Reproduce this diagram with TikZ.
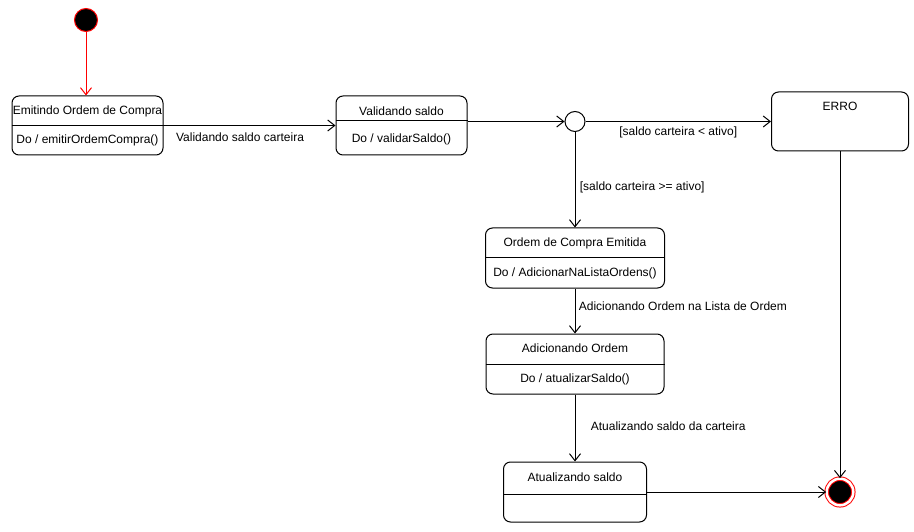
\documentclass[tikz,border=0pt]{standalone}
\usepackage{fontspec}
\setmainfont{Liberation Sans}
\usetikzlibrary{arrows.meta,positioning}

\begin{document}
\begin{tikzpicture}[
    x=1pt, y=-1pt,
    font=\fontsize{12}{14}\selectfont,
    state/.style={
        rectangle,
        draw,
        rounded corners=7pt,
        line width=1pt,
        minimum height=59pt
    },
    caption/.style={
        inner sep=0pt
    },
    startdot/.style={
        circle,
        draw=red,
        fill=black,
        line width=1pt,
        minimum size=23pt,
        inner sep=0pt
    },
    choice/.style={
        circle,
        draw,
        fill=white,
        line width=1pt,
        minimum size=20pt,
        inner sep=0pt
    },
    enddot/.style={
        circle,
        draw=red,
        fill=black,
        line width=1pt,
        double=white,
        double distance=2.5pt,
        minimum size=26.6pt,
        inner sep=0pt
    },
    divider/.style={
        draw, line width=1pt
    },
    line/.style={
        draw, -{Straight Barb[length=7pt,width=11pt]}, line width=1pt
    }
]

    \useasboundingbox (0,0) rectangle (914,532);

    % Nodes
    \node [startdot] (init) at (86,20) {};
    \node [state, minimum width=151pt] (emitindo) at (87.5,125.5) {};
    \node [state, minimum width=131pt, right of=emitindo, node distance=314pt] (validando) {};
    \node [choice] (choice) at (575,121.5) {};
    \node [state, minimum width=137pt, right of=choice, node distance=265pt] (erro) {};
    \node [state, minimum width=179pt, minimum height=60pt, below of=choice, node distance=136.5pt] (emitida) {};
    \node [state, minimum width=178pt, minimum height=60pt, below of=emitida, node distance=106pt] (adicionando) {};
    \node [state, minimum width=143pt, minimum height=60pt, below of=adicionando, node distance=128pt] (atualizando) {};
    \node [enddot, right of=atualizando, node distance=265pt] (final) {};

    % Compartments
    \node [caption] (emitindo_t) at ([yshift=-15.5pt]emitindo.north) {Emitindo Ordem de Compra};
    \node [caption] (emitindo_d) at ([yshift=15pt]emitindo.south) {Do / emitirOrdemCompra()};
    \path [divider] ([yshift=-30.5pt]emitindo.north west) -- ([yshift=-30.5pt]emitindo.north east);
    \node [caption] (validando_t) at ([yshift=-15.5pt]validando.north) {Validando saldo};
    \node [caption] (validando_d) at ([yshift=16.5pt]validando.south) {Do / validarSaldo()};
    \path [divider] ([yshift=-25.5pt]validando.north west) -- ([yshift=-25.5pt]validando.north east);
    \node [caption] (erro_t) at ([yshift=-15pt]erro.north) {ERRO};
    \node [caption] (emitida_t) at ([yshift=-16pt]emitida.north) {Ordem de Compra Emitida};
    \node [caption] (emitida_d) at ([yshift=15pt]emitida.south) {Do / AdicionarNaListaOrdens()};
    \path [divider] ([yshift=-30pt]emitida.north west) -- ([yshift=-30pt]emitida.north east);
    \node [caption] (adicionando_t) at ([yshift=-15pt]adicionando.north) {Adicionando Ordem};
    \node [caption] (adicionando_d) at ([yshift=15pt]adicionando.south) {Do / atualizarSaldo()};
    \path [divider] ([yshift=-31pt]adicionando.north west) -- ([yshift=-31pt]adicionando.north east);
    \node [caption] (atualizando_t) at ([yshift=-16pt]atualizando.north) {Atualizando saldo};
    \path [divider] ([yshift=-33pt]atualizando.north west) -- ([yshift=-33pt]atualizando.north east);

    % Edges
    \path [line, draw=red] (init) -- (init |- emitindo.north);
    \path [line] (emitindo) -- node [below=3pt, pos=0.445] {Validando saldo carteira} (validando);
    \path [line] (validando.east |- choice) -- (choice);
    \path [line] (choice) -- node [below=1pt] {[saldo carteira < ativo]} (erro);
    \path [line] (choice) -- node [right=1pt, pos=0.58] {[saldo carteira >= ativo]} (emitida);
    \path [line] (emitida) -- node [right=0pt, pos=0.4] {Adicionando Ordem na Lista de Ordem} (adicionando);
    \path [line] (adicionando) -- node [right=12pt, pos=0.48] {Atualizando saldo da carteira} (atualizando);
    \path [line] (erro) -- (final);
    \path [line] (atualizando.east |- final) -- (final);

\end{tikzpicture}
\end{document}
